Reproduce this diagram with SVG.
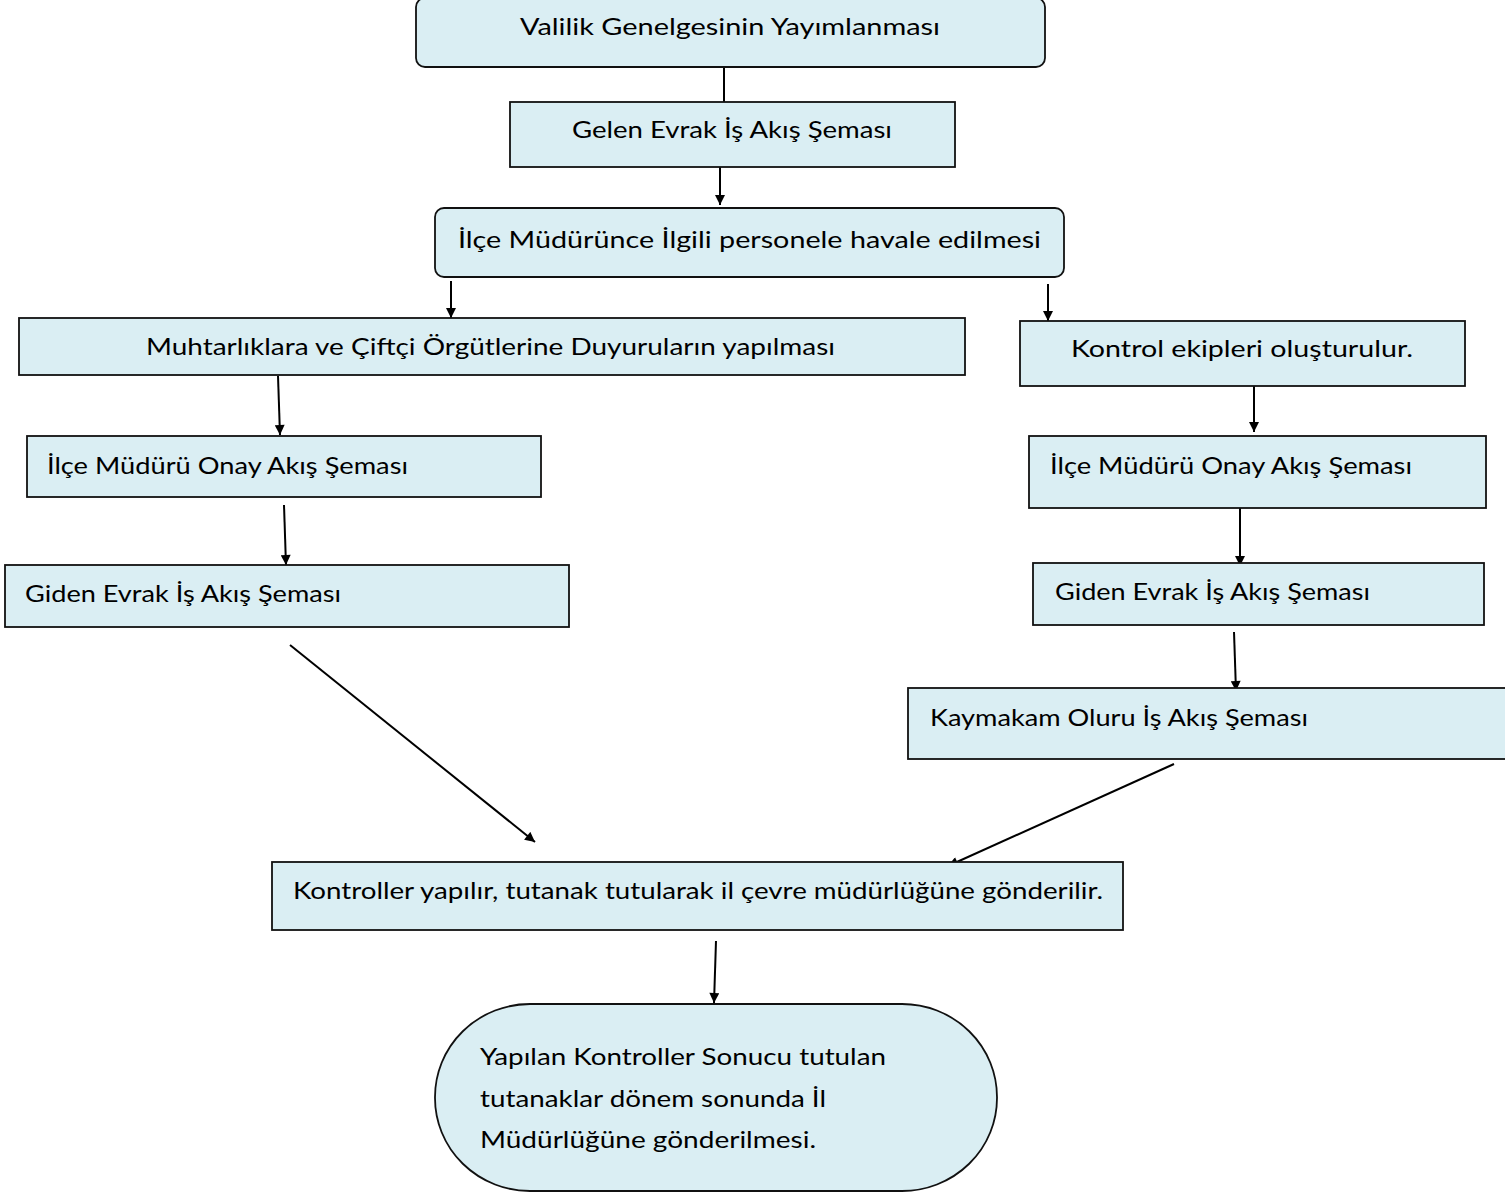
<svg xmlns="http://www.w3.org/2000/svg" width="1505" height="1193" viewBox="0 0 1505 1193">
<defs>
<style>
.n{fill:#DAEEF3;stroke:#111;stroke-width:1.8}
.t{font-family:Lato,"Open Sans","Liberation Sans",sans-serif;font-size:24px;fill:#000}
.c line{stroke:#000;stroke-width:2}
</style>
<marker id="a" viewBox="0 0 10 10" refX="10" refY="5" markerWidth="5.5" markerHeight="5" markerUnits="strokeWidth" orient="auto">
<path d="M0,0 L10,5 L0,10 z" fill="#000"/>
</marker>
</defs>
<rect width="1505" height="1193" fill="#fff"/>
<g class="c">
<line x1="724" y1="67" x2="724" y2="102"/>
<line x1="720" y1="167" x2="720" y2="205" marker-end="url(#a)"/>
<line x1="451" y1="281" x2="451" y2="318" marker-end="url(#a)"/>
<line x1="1048" y1="284" x2="1048" y2="321" marker-end="url(#a)"/>
<line x1="278" y1="376" x2="280" y2="435" marker-end="url(#a)"/>
<line x1="284" y1="505" x2="286" y2="565" marker-end="url(#a)"/>
<line x1="1254" y1="383" x2="1254" y2="432" marker-end="url(#a)"/>
<line x1="1240" y1="503" x2="1240" y2="566" marker-end="url(#a)"/>
<line x1="1234" y1="632" x2="1236" y2="691" marker-end="url(#a)"/>
<line x1="290" y1="645" x2="535" y2="842" marker-end="url(#a)"/>
<line x1="1174" y1="764" x2="948" y2="866" marker-end="url(#a)"/>
<line x1="716" y1="941" x2="714" y2="1003" marker-end="url(#a)"/>
</g>
<g id="n1"><rect class="n" x="416" y="-2" width="629" height="69" rx="9"/><text class="t" x="520" y="35" textLength="420" lengthAdjust="spacingAndGlyphs">Valilik Genelgesinin Yayımlanması</text></g>
<g id="n2"><rect class="n" x="510" y="102" width="445" height="65"/><text class="t" x="572" y="138" textLength="320" lengthAdjust="spacingAndGlyphs">Gelen Evrak İş Akış Şeması</text></g>
<g id="n3"><rect class="n" x="435" y="208" width="629" height="69" rx="9"/><text class="t" x="458" y="248" textLength="583" lengthAdjust="spacingAndGlyphs">İlçe Müdürünce İlgili personele havale edilmesi</text></g>
<g id="n4"><rect class="n" x="19" y="318" width="946" height="57"/><text class="t" x="146" y="355" textLength="689" lengthAdjust="spacingAndGlyphs">Muhtarlıklara ve Çiftçi Örgütlerine Duyuruların yapılması</text></g>
<g id="n5"><rect class="n" x="1020" y="321" width="445" height="65"/><text class="t" x="1071" y="357" textLength="342" lengthAdjust="spacingAndGlyphs">Kontrol ekipleri oluşturulur.</text></g>
<g id="n6"><rect class="n" x="27" y="436" width="514" height="61"/><text class="t" x="47" y="474" textLength="361" lengthAdjust="spacingAndGlyphs">İlçe Müdürü Onay Akış Şeması</text></g>
<g id="n7"><rect class="n" x="5" y="565" width="564" height="62"/><text class="t" x="25" y="602" textLength="316" lengthAdjust="spacingAndGlyphs">Giden Evrak İş Akış Şeması</text></g>
<g id="n8"><rect class="n" x="1029" y="436" width="457" height="72"/><text class="t" x="1050" y="474" textLength="362" lengthAdjust="spacingAndGlyphs">İlçe Müdürü Onay Akış Şeması</text></g>
<g id="n9"><rect class="n" x="1033" y="563" width="451" height="62"/><text class="t" x="1055" y="600" textLength="315" lengthAdjust="spacingAndGlyphs">Giden Evrak İş Akış Şeması</text></g>
<g id="n10"><rect class="n" x="908" y="688" width="610" height="71"/><text class="t" x="930" y="726" textLength="378" lengthAdjust="spacingAndGlyphs">Kaymakam Oluru İş Akış Şeması</text></g>
<g id="n11"><rect class="n" x="272" y="862" width="851" height="68"/><text class="t" x="293" y="899" textLength="810" lengthAdjust="spacingAndGlyphs">Kontroller yapılır, tutanak tutularak il çevre müdürlüğüne gönderilir.</text></g>
<g id="n12"><rect class="n" x="435" y="1004" width="562" height="187" rx="95" ry="93"/>
<text class="t" x="480" y="1065" textLength="406" lengthAdjust="spacingAndGlyphs">Yapılan Kontroller Sonucu tutulan</text>
<text class="t" x="480" y="1107" textLength="346" lengthAdjust="spacingAndGlyphs">tutanaklar dönem sonunda İl</text>
<text class="t" x="480" y="1148" textLength="336" lengthAdjust="spacingAndGlyphs">Müdürlüğüne gönderilmesi.</text></g>
</svg>
